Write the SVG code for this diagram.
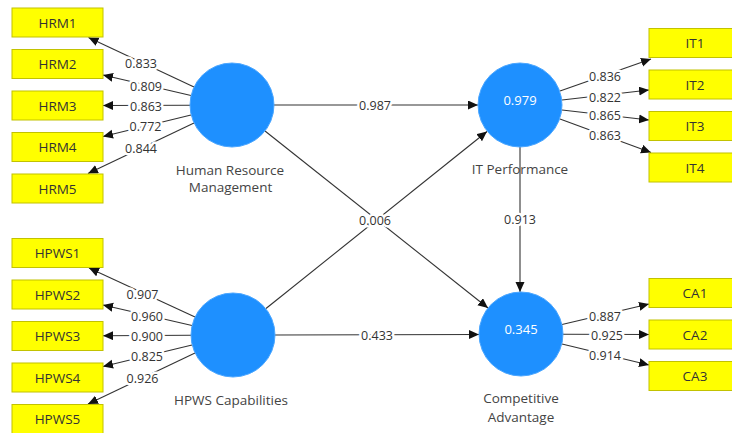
<svg xmlns="http://www.w3.org/2000/svg" width="732" height="433" viewBox="0 0 732 433">
<style>
.box{fill:#ffff00;stroke:#c2c200;stroke-width:1}
.bt{font-family:"Open Sans","Noto Sans",sans-serif;font-size:13.5px;fill:#333;text-anchor:middle}
.lv{fill:#1e90ff;stroke:#4aa6ff;stroke-width:1}
.lt{font-family:"Open Sans","Noto Sans",sans-serif;font-size:13.5px;fill:#444;text-anchor:middle}
.in{font-family:"Open Sans","Noto Sans",sans-serif;font-size:13px;fill:#ffffff;text-anchor:middle}
.c{stroke:#333;stroke-width:1.1;fill:none;marker-end:url(#ah)}
.num{font-family:"Open Sans","Noto Sans",sans-serif;font-size:12.5px;fill:#333;text-anchor:middle;stroke:#fff;stroke-width:5;paint-order:stroke;stroke-linejoin:round}
</style>
<defs>
<marker id="ah" markerUnits="userSpaceOnUse" markerWidth="11" markerHeight="10" refX="10" refY="4.5" orient="auto">
<path d="M0,0 L10,4.5 L0,9 z" fill="#111"/>
</marker>
</defs>
<rect width="732" height="433" fill="#fff"/>
<g id="connectors">
<line class="c" x1="194" y1="87" x2="88.5" y2="37.5"/>
<line class="c" x1="191" y1="95.5" x2="103" y2="75"/>
<line class="c" x1="190" y1="105.2" x2="103" y2="105.5"/>
<line class="c" x1="191" y1="115" x2="103" y2="136.5"/>
<line class="c" x1="194" y1="123" x2="88" y2="173.5"/>
<line class="c" x1="195" y1="317" x2="89" y2="268"/>
<line class="c" x1="192" y1="325.5" x2="103" y2="305"/>
<line class="c" x1="191" y1="335.2" x2="103" y2="335.7"/>
<line class="c" x1="192" y1="345" x2="103" y2="366.5"/>
<line class="c" x1="195" y1="353" x2="88" y2="404"/>
<line class="c" x1="560" y1="91" x2="651" y2="59"/>
<line class="c" x1="562" y1="100" x2="649" y2="90"/>
<line class="c" x1="562" y1="110" x2="649" y2="120"/>
<line class="c" x1="560" y1="119" x2="651" y2="152.5"/>
<line class="c" x1="562" y1="324.5" x2="649" y2="304"/>
<line class="c" x1="563" y1="334.3" x2="649" y2="334.5"/>
<line class="c" x1="562" y1="344" x2="649" y2="365"/>
<line class="c" x1="274" y1="105" x2="478" y2="105"/>
<line class="c" x1="275" y1="335" x2="479" y2="334.5"/>
<line class="c" x1="265" y1="131" x2="488" y2="308"/>
<line class="c" x1="266" y1="308.5" x2="487" y2="131.5"/>
<line class="c" x1="520" y1="147" x2="520" y2="292"/>
<text class="num" x="141" y="67.5">0.833</text>
<text class="num" x="146" y="90.5">0.809</text>
<text class="num" x="146" y="110.5">0.863</text>
<text class="num" x="145.5" y="130.5">0.772</text>
<text class="num" x="141" y="152.5">0.844</text>
<text class="num" x="142.5" y="298.5">0.907</text>
<text class="num" x="147" y="320.5">0.960</text>
<text class="num" x="147" y="340.5">0.900</text>
<text class="num" x="147" y="360.5">0.825</text>
<text class="num" x="142.5" y="382.5">0.926</text>
<text class="num" x="605" y="80.5">0.836</text>
<text class="num" x="605" y="101.5">0.822</text>
<text class="num" x="605" y="119.5">0.865</text>
<text class="num" x="605" y="139.5">0.863</text>
<text class="num" x="605" y="320.5">0.887</text>
<text class="num" x="607" y="339.5">0.925</text>
<text class="num" x="605" y="359.5">0.914</text>
<text class="num" x="375" y="109.5">0.987</text>
<text class="num" x="377" y="339.5">0.433</text>
<text class="num" x="375" y="224.5">0.006</text>
<text class="num" x="520" y="223.5">0.913</text>
</g>
<g id="HRM1"><rect class="box" x="12" y="8" width="91" height="29"/><text class="bt" x="57.5" y="27.5">HRM1</text></g>
<g id="HRM2"><rect class="box" x="12" y="49.5" width="91" height="29"/><text class="bt" x="57.5" y="69">HRM2</text></g>
<g id="HRM3"><rect class="box" x="12" y="91" width="91" height="29"/><text class="bt" x="57.5" y="110.5">HRM3</text></g>
<g id="HRM4"><rect class="box" x="12" y="132.5" width="91" height="29"/><text class="bt" x="57.5" y="152">HRM4</text></g>
<g id="HRM5"><rect class="box" x="12" y="174" width="91" height="29"/><text class="bt" x="57.5" y="193.5">HRM5</text></g>
<g id="HPWS1"><rect class="box" x="12" y="238.5" width="91" height="29"/><text class="bt" x="57.5" y="258">HPWS1</text></g>
<g id="HPWS2"><rect class="box" x="12" y="280" width="91" height="29"/><text class="bt" x="57.5" y="299.5">HPWS2</text></g>
<g id="HPWS3"><rect class="box" x="12" y="321.5" width="91" height="29"/><text class="bt" x="57.5" y="341">HPWS3</text></g>
<g id="HPWS4"><rect class="box" x="12" y="363" width="91" height="29"/><text class="bt" x="57.5" y="382.5">HPWS4</text></g>
<g id="HPWS5"><rect class="box" x="12" y="404.5" width="91" height="29"/><text class="bt" x="57.5" y="424">HPWS5</text></g>
<g id="IT1"><rect class="box" x="649" y="28.5" width="92" height="29"/><text class="bt" x="695" y="48">IT1</text></g>
<g id="IT2"><rect class="box" x="649" y="70" width="92" height="29"/><text class="bt" x="695" y="89.5">IT2</text></g>
<g id="IT3"><rect class="box" x="649" y="111.5" width="92" height="29"/><text class="bt" x="695" y="131">IT3</text></g>
<g id="IT4"><rect class="box" x="649" y="153" width="92" height="29"/><text class="bt" x="695" y="172.5">IT4</text></g>
<g id="CA1"><rect class="box" x="649" y="278.5" width="92" height="29"/><text class="bt" x="695" y="298">CA1</text></g>
<g id="CA2"><rect class="box" x="649" y="320" width="92" height="29"/><text class="bt" x="695" y="339.5">CA2</text></g>
<g id="CA3"><rect class="box" x="649" y="361.5" width="92" height="29"/><text class="bt" x="695" y="381">CA3</text></g>
<g id="HRM"><circle class="lv" cx="232" cy="105" r="42"/><text class="lt" x="230" y="175">Human Resource</text><text class="lt" x="230.5" y="192">Management</text></g>
<g id="HPWS"><circle class="lv" cx="233" cy="335" r="42"/><text class="lt" x="231" y="405">HPWS Capabilities</text></g>
<g id="IT"><circle class="lv" cx="520" cy="105" r="42"/><text class="in" x="520" y="104.5">0.979</text><text class="lt" x="520" y="174">IT Performance</text></g>
<g id="CA"><circle class="lv" cx="521" cy="334" r="42"/><text class="in" x="521" y="333.5">0.345</text><text class="lt" x="521" y="403">Competitive</text><text class="lt" x="521" y="422">Advantage</text></g>
</svg>
